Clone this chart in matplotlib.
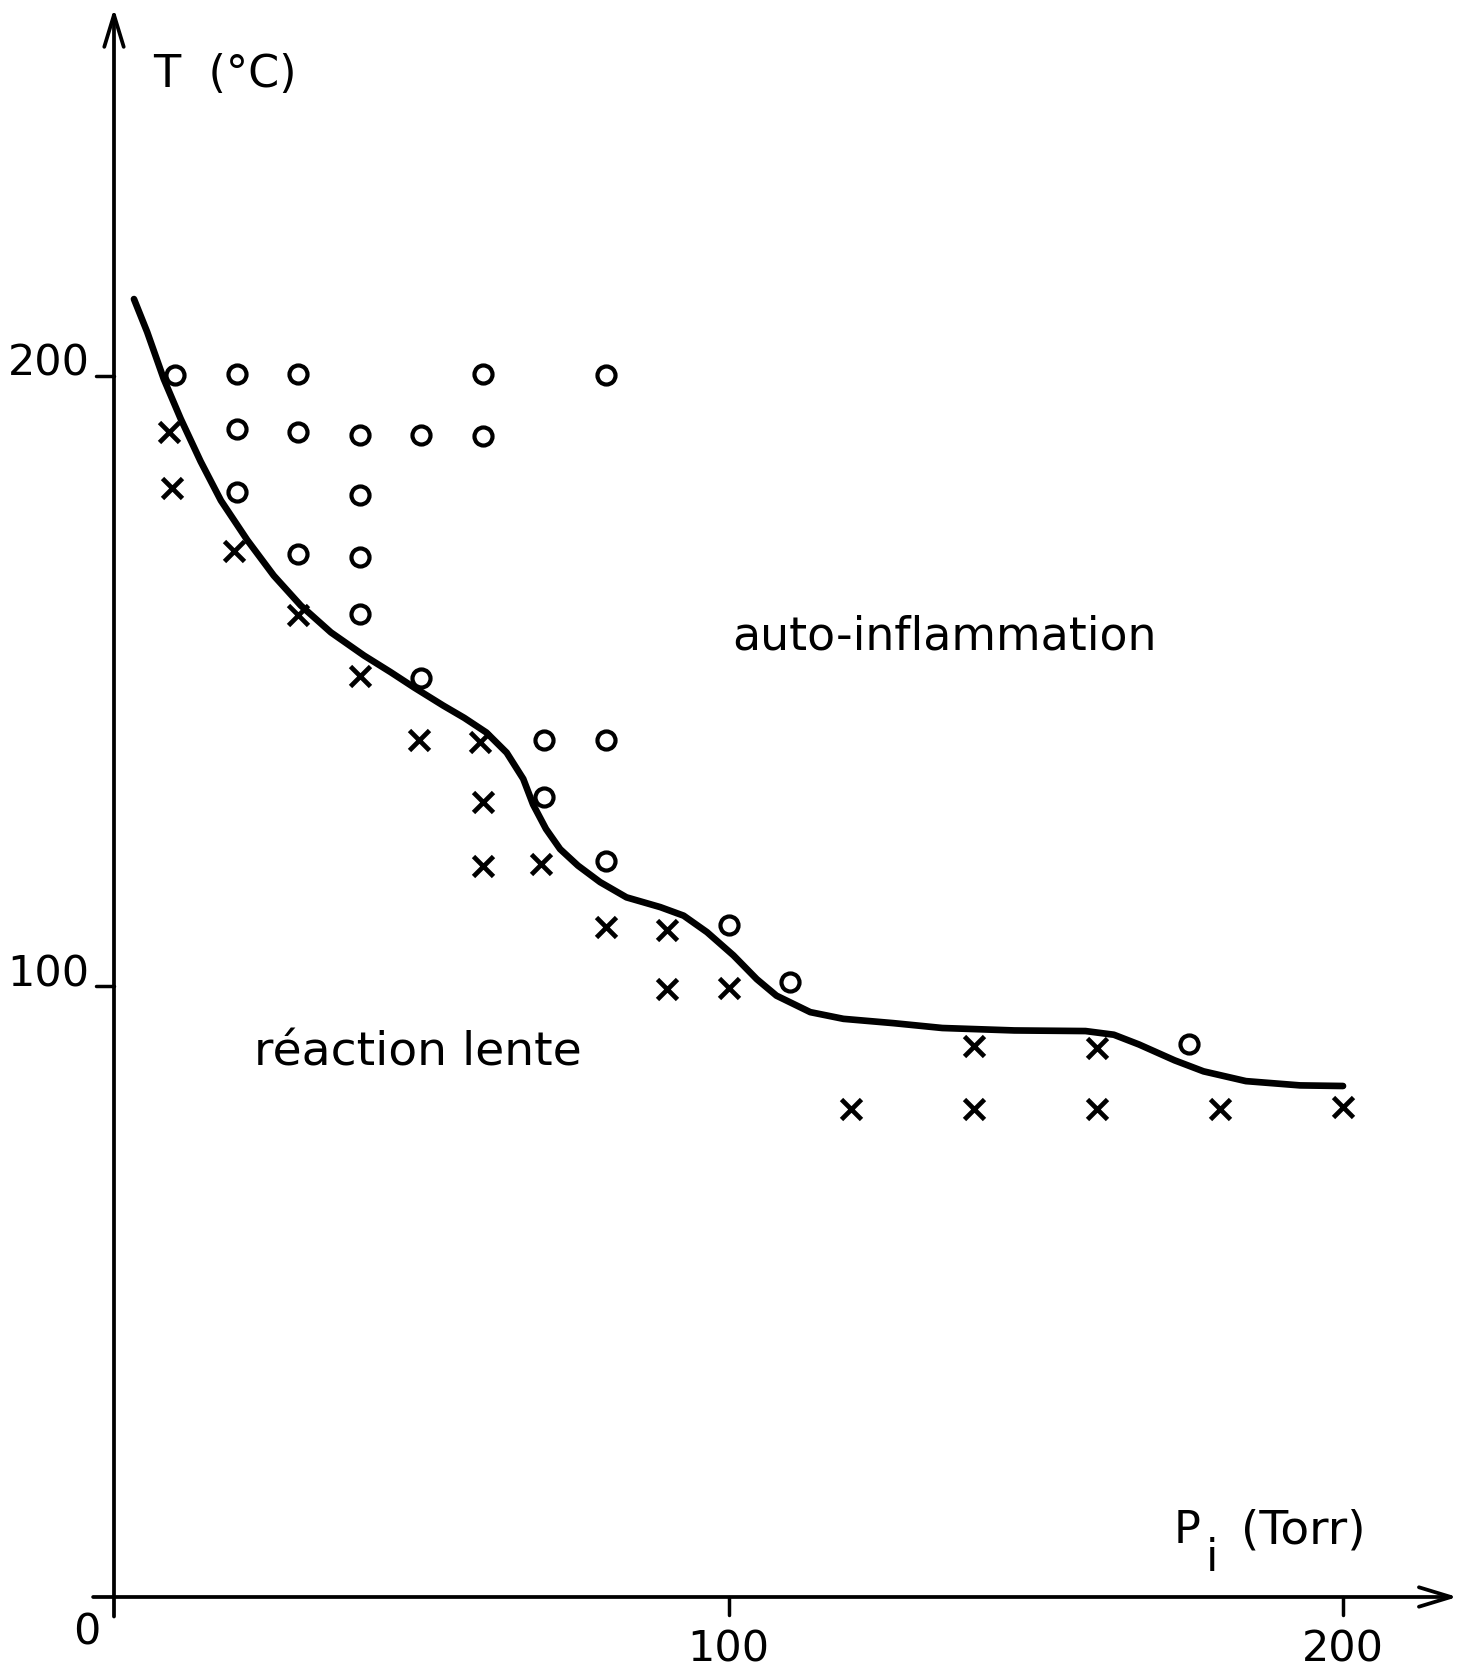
import matplotlib

matplotlib.use("Agg")
import matplotlib.pyplot as plt

# Points "auto-inflammation" (o) et "reaction lente" (x)
auto_p = [10, 20, 30, 60, 80,
          20, 30, 40, 50, 60,
          20, 40,
          30, 40,
          40,
          50,
          70, 80,
          70,
          80,
          100,
          110,
          175]
auto_t = [200.2, 200.3, 200.3, 200.3, 200.1,
          191.3, 190.9, 190.4, 190.4, 190.2,
          181.0, 180.5,
          170.9, 170.4,
          161.0,
          150.6,
          140.4, 140.4,
          131.1,
          120.6,
          110.0,
          100.8,
          90.6]

lente_p = [9, 9.5, 19.5, 30, 40, 49.7, 59.5, 60, 60, 69.5, 80, 90, 90, 100,
           120, 140, 140, 160, 160, 180, 200]
lente_t = [190.9, 181.6, 171.3, 160.8, 150.9, 140.4, 140.0, 130.2, 119.8, 120.1,
           109.8, 109.3, 99.6, 99.8, 79.9, 79.9, 90.2, 89.9, 79.9, 79.9, 80.2]

# Courbe limite tracee a la main
courbe_p = [3.25, 5.4, 8.1, 10.85, 14.1, 17.4, 21.7, 26.0, 30.4, 35.3, 40.7,
            45.0, 48.8, 53.6, 57.0, 60.6, 63.9, 66.6, 68.2, 70.3, 72.6, 75.5,
            79.1, 83.4, 88.9, 92.7, 96.5, 100.8, 104.6, 107.8, 113.3, 118.7,
            126.8, 134.8, 146.5, 158.1, 162.7, 166.8, 172.6, 177.3, 184.2,
            193.0, 200.0]
courbe_t = [212.6, 207.2, 199.5, 193.0, 186.0, 179.6, 173.1, 167.3, 162.4,
            158.0, 154.2, 151.5, 149.0, 146.0, 144.0, 141.6, 138.3, 134.0,
            129.8, 125.8, 122.5, 119.8, 117.1, 114.6, 113.0, 111.6, 108.9,
            105.1, 101.2, 98.5, 95.8, 94.7, 94.0, 93.2, 92.8, 92.7, 92.1,
            90.5, 87.9, 86.1, 84.5, 83.8, 83.7]

x_ticks = [100, 200]
y_ticks = [100, 200]

NOIR = "black"
FONTE = "DejaVu Sans"
TAILLE = 31

fig = plt.figure(figsize=(14.73, 16.74), dpi=100)
ax = fig.add_axes([0, 0, 1, 1])
ax.set_xlim(-18.55, 221.15)
ax.set_ylim(-12.45, 261.75)
ax.axis("off")

# axes avec fleches ouvertes
fleche = dict(arrowstyle="->,head_length=2.3,head_width=0.7", lw=2.7,
              color=NOIR, shrinkA=0, shrinkB=0)
ax.annotate("", xy=(0, 260.2), xytext=(0, -3.2), arrowprops=fleche)
ax.annotate("", xy=(218.6, 0), xytext=(-3.4, 0), arrowprops=fleche)

for xt in x_ticks:
    ax.plot([xt, xt], [0, -3.0], color=NOIR, lw=2.5, solid_capstyle="round")
    ax.text(xt, -8.4, str(xt), ha="center", va="center", fontsize=TAILLE,
            family=FONTE)
for yt in y_ticks:
    ax.plot([-3.0, 0], [yt, yt], color=NOIR, lw=2.5, solid_capstyle="round")
    ax.text(-4.0, yt + 2.2, str(yt), ha="right", va="center", fontsize=TAILLE,
            family=FONTE)
ax.text(-4.4, -5.7, "0", ha="center", va="center", fontsize=TAILLE, family=FONTE)

# courbe et points
ax.plot(courbe_p, courbe_t, color=NOIR, lw=4.8, solid_capstyle="round",
        solid_joinstyle="round", clip_on=False)
ax.plot(auto_p, auto_t, "o", ms=13, mfc="white", mec=NOIR, mew=3.0,
        linestyle="none", clip_on=False)
ax.plot(lente_p, lente_t, "x", ms=14.5, mec=NOIR, mew=3.4, linestyle="none",
        clip_on=False)

# titres et zones
ax.text(6.3, 247.5, "T  (°C)", ha="left", va="baseline", fontsize=TAILLE + 1,
        family=FONTE)
ax.text(172.5, 9.0, "P", ha="left", va="baseline", fontsize=TAILLE + 1,
        family=FONTE)
ax.text(178.6, 4.4, "i", ha="center", va="baseline", fontsize=TAILLE + 1,
        family=FONTE)
ax.text(193.6, 9.0, "(Torr)", ha="center", va="baseline", fontsize=TAILLE + 3,
        family=FONTE)
ax.text(135.2, 157.4, "auto-inflammation", ha="center", va="center",
        fontsize=TAILLE + 2, family=FONTE)
ax.text(49.5, 89.3, "réaction lente", ha="center", va="center",
        fontsize=TAILLE + 3, family=FONTE)

fig.savefig("out.png", dpi=100, facecolor="white")
